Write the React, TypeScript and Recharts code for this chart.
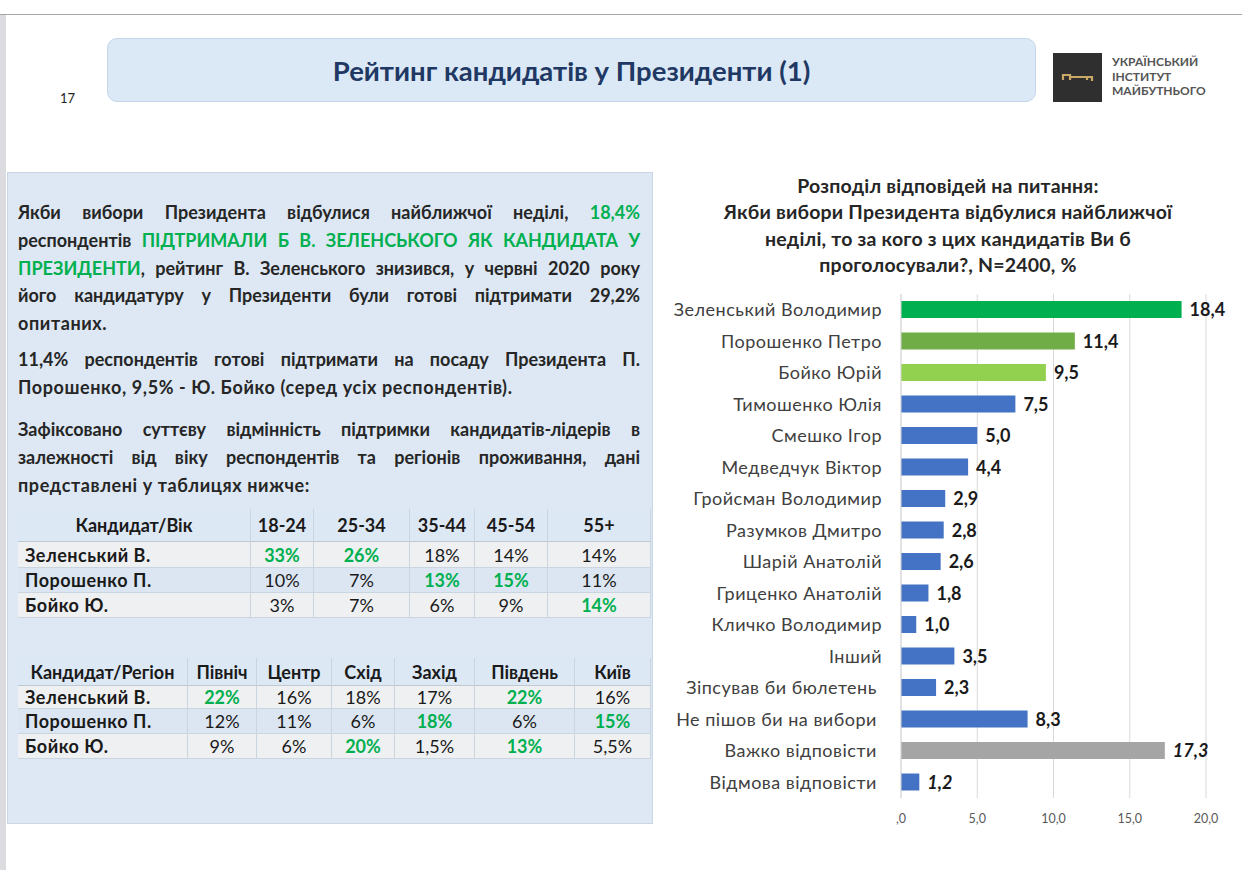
import React from 'react';
import { BarChart, Bar, XAxis, YAxis, CartesianGrid, Cell, LabelList } from 'recharts';

// категорії та значення для графіка
const candidates = [
  'Зеленський Володимир',
  'Порошенко Петро',
  'Бойко Юрій',
  'Тимошенко Юлія',
  'Смешко Ігор',
  'Медведчук Віктор',
  'Гройсман Володимир',
  'Разумков Дмитро',
  'Шарій Анатолій',
  'Гриценко Анатолій',
  'Кличко Володимир',
  'Інший',
  'Зіпсував би бюлетень ',
  'Не пішов би на вибори ',
  'Важко відповісти ',
  'Відмова відповісти ',
];
const shares = [18.4, 11.4, 9.5, 7.5, 5.0, 4.4, 2.9, 2.8, 2.6, 1.8, 1.0, 3.5, 2.3, 8.3, 17.3, 1.2];
const xTicks = [0, 5, 10, 15, 20];

const BLUE = '#4472c4';
const barColors = ['#00b050', '#70ad47', '#92d050', BLUE, BLUE, BLUE, BLUE, BLUE, BLUE, BLUE, BLUE, BLUE, BLUE, BLUE, '#a5a5a5', BLUE];
const italicIdx = new Set([14, 15]);

// таблиці
const ageHeaders = ['Кандидат/Вік', '18-24', '25-34', '35-44', '45-54', '55+'];
const ageRows = [
  ['Зеленський В.', '33%', '26%', '18%', '14%', '14%'],
  ['Порошенко П.', '10%', '7%', '13%', '15%', '11%'],
  ['Бойко Ю.', '3%', '7%', '6%', '9%', '14%'],
];
const ageLeaders = [[1, 2], [3, 4], [5]];

const regionHeaders = ['Кандидат/Регіон', 'Північ', 'Центр', 'Схід', 'Захід', 'Південь', 'Київ'];
const regionRows = [
  ['Зеленський В.', '22%', '16%', '18%', '17%', '22%', '16%'],
  ['Порошенко П.', '12%', '11%', '6%', '18%', '6%', '15%'],
  ['Бойко Ю.', '9%', '6%', '20%', '1,5%', '13%', '5,5%'],
];
const regionLeaders = [[1, 5], [4, 6], [3, 5]];

const chartData = candidates.map((name, i) => ({ name, value: shares[i] }));

const FONT = 'Lato, "Open Sans", sans-serif';
const GREEN = '#00b050';
const fmt = (v: number) => v.toFixed(1).replace('.', ',');

const CategoryTick = (props: any) => {
  const { x, y, payload } = props;
  return (
    <text x={x} y={y} dy={6.5} textAnchor="end" fill="#404040" fontSize={18} letterSpacing={0.5} fontFamily={FONT} style={{ whiteSpace: 'pre' }}>
      {payload.value}
    </text>
  );
};

const ValueLabel = (props: any) => {
  const { x, y, width, height, value, index } = props;
  return (
    <text
      x={Number(x) + Number(width) + 8}
      y={Number(y) + Number(height) / 2}
      dy={6.5}
      fill="#1a1a1a"
      fontSize={18}
      fontWeight="bold"
      fontStyle={italicIdx.has(index) ? 'italic' : 'normal'}
      fontFamily={FONT}
    >
      {fmt(Number(value))}
    </text>
  );
};

const Table = ({ top, widths, heights, headers, rows, leaders }: any) => (
  <div
    style={{
      position: 'absolute', left: 18, top, width: 633,
      display: 'grid',
      gridTemplateColumns: widths.map((w: number) => w + 'px').join(' '),
      gridTemplateRows: heights.map((h: number) => h + 'px').join(' '),
      fontSize: 18, color: '#1a1a1a',
    }}
  >
    {headers.map((h: string, i: number) => (
      <div key={'h' + i} style={{ background: '#dde8f5', borderRight: '1px solid #cbd5e0', borderBottom: '1px solid #bfc9d4', display: 'flex', alignItems: 'center', justifyContent: 'center', fontWeight: 'bold' }}>{h}</div>
    ))}
    {rows.map((r: string[], ri: number) =>
      r.map((c, ci) => (
        <div
          key={ri + '-' + ci}
          style={{
            background: ri % 2 === 1 ? '#dce6f2' : '#eff0f2',
            borderRight: '1px solid #cbd5e0', borderBottom: '1px solid #cbd5e0',
            display: 'flex', alignItems: 'center',
            justifyContent: ci === 0 ? 'flex-start' : 'center',
            paddingLeft: ci === 0 ? 7 : 0,
            letterSpacing: ci === 0 ? 0.5 : 0,
            fontWeight: ci === 0 || leaders[ri].includes(ci) ? 'bold' : 'normal',
            color: leaders[ri].includes(ci) ? GREEN : '#1a1a1a',
          }}
        >{c}</div>
      ))
    )}
  </div>
);

const J = ({ children, last }: any) => (
  <div style={{ textAlign: 'justify', textAlignLast: last ? 'left' : 'justify', whiteSpace: 'nowrap', letterSpacing: last ? 0.6 : 0 }}>{children}</div>
);
const G = ({ children }: any) => <span style={{ color: GREEN }}>{children}</span>;

export default function App() {
  const para = { position: 'absolute' as const, left: 18, width: 622, fontSize: 18, lineHeight: '27.8px', fontWeight: 'bold' as const, color: '#262626' };
  return (
    <div style={{ position: 'absolute', left: 0, top: 0, width: 1242, height: 870, background: '#fff', fontFamily: FONT, overflow: 'hidden' }}>
      <div style={{ position: 'absolute', left: 0, top: 14, width: 1242, height: 1, background: '#a6a6a6' }} />
      <div style={{ position: 'absolute', left: 0, top: 15, width: 6, height: 855, background: '#dcdce0' }} />

      {/* заголовок */}
      <div style={{ position: 'absolute', left: 107, top: 38, width: 927, height: 62, background: '#dbe8f5', border: '1px solid #c4d6ea', borderRadius: 10, display: 'flex', alignItems: 'center', justifyContent: 'center', fontSize: 27.5, fontWeight: 'bold', color: '#1f3864' }}>
        Рейтинг кандидатів у Президенти (1)
      </div>
      <div style={{ position: 'absolute', left: 60, top: 90, fontSize: 13, color: '#222' }}>17</div>

      {/* логотип */}
      <div style={{ position: 'absolute', left: 1053, top: 53, width: 49, height: 49, background: '#2f2f2f' }}>
        <svg width={49} height={49}>
          <path d="M10 27 v-5 h7 v5 M17 24 h22 v4 M34 24 v3" stroke="#c9a965" strokeWidth={2.2} fill="none" />
        </svg>
      </div>
      <div style={{ position: 'absolute', left: 1112, top: 55, fontSize: 12, lineHeight: '14.5px', fontWeight: 'bold', color: '#555' }}>
        <div>УКРАЇНСЬКИЙ</div>
        <div>ІНСТИТУТ</div>
        <div>МАЙБУТНЬОГО</div>
      </div>

      {/* ліва панель */}
      <div style={{ position: 'absolute', left: 7, top: 172, width: 644, height: 650, background: '#dde8f4', border: '1px solid #c8d6e6' }} />
      <div style={{ ...para, top: 199 }}>
        <J>Якби вибори Президента відбулися найближчої неділі, <G>18,4%</G></J>
        <J>респондентів <G>ПІДТРИМАЛИ Б В. ЗЕЛЕНСЬКОГО ЯК КАНДИДАТА У</G></J>
        <J><G>ПРЕЗИДЕНТИ</G>, рейтинг В. Зеленського знизився, у червні 2020 року</J>
        <J>його кандидатуру у Президенти були готові підтримати 29,2%</J>
        <J last>опитаних.</J>
      </div>
      <div style={{ ...para, top: 346 }}>
        <J>11,4% респондентів готові підтримати на посаду Президента П.</J>
        <J last>Порошенко, 9,5% - Ю. Бойко (серед усіх респондентів).</J>
      </div>
      <div style={{ ...para, top: 416 }}>
        <J>Зафіксовано суттєву відмінність підтримки кандидатів-лідерів в</J>
        <J>залежності від віку респондентів та регіонів проживання, дані</J>
        <J last>представлені у таблицях нижче:</J>
      </div>

      <Table top={509} widths={[233, 63, 96, 65, 73, 103]} heights={[33, 26, 25, 25]} headers={ageHeaders} rows={ageRows} leaders={ageLeaders} />
      <Table top={658} widths={[170, 69, 75, 63, 80, 100, 76]} heights={[28, 23, 25, 25]} headers={regionHeaders} rows={regionRows} leaders={regionLeaders} />

      {/* заголовок графіка */}
      <div style={{ position: 'absolute', left: 648, top: 173, width: 600, textAlign: 'center', fontSize: 19.5, lineHeight: '26.4px', fontWeight: 'bold', color: '#262626', letterSpacing: 0.2 }}>
        <div>Розподіл відповідей на питання:</div>
        <div>Якби вибори Президента відбулися найближчої</div>
        <div>неділі, то за кого з цих кандидатів Ви б</div>
        <div>проголосували?, N=2400, %</div>
      </div>

      <div style={{ position: 'absolute', left: 660, top: 280 }}>
        <BarChart layout="vertical" width={580} height={560} data={chartData} margin={{ top: 14, right: 34, bottom: 0, left: 0 }}>
          <CartesianGrid horizontal={false} stroke="#d9d9d9" />
          <XAxis
            type="number"
            domain={[0, 20]}
            ticks={xTicks}
            axisLine={false}
            tickLine={false}
            tickSize={0}
            tickMargin={16}
            height={42}
            tickFormatter={(v: number) => (v === 0 ? ',0' : fmt(v))}
            tick={{ fill: '#595959', fontSize: 12.5, fontFamily: FONT }}
          />
          <YAxis
            type="category"
            dataKey="name"
            width={241}
            axisLine={{ stroke: '#d9d9d9' }}
            tickLine={false}
            tickSize={0}
            tickMargin={19}
            interval={0}
            tick={<CategoryTick />}
          />
          <Bar dataKey="value" barSize={17} isAnimationActive={false}>
            {chartData.map((d, i) => (
              <Cell key={d.name} fill={barColors[i]} />
            ))}
            <LabelList dataKey="value" content={<ValueLabel />} />
          </Bar>
        </BarChart>
      </div>
    </div>
  );
}
